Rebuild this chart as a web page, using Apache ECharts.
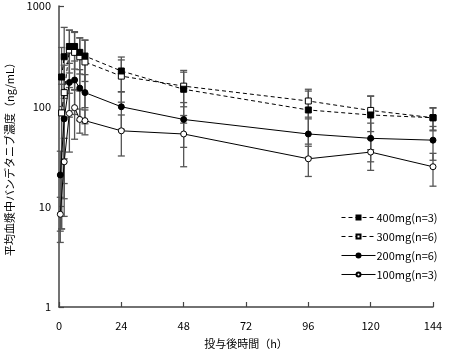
<!DOCTYPE html>
<html><head><meta charset="utf-8">
<script src="https://cdn.jsdelivr.net/npm/echarts@6/dist/echarts.min.js"></script>
<style>html,body{margin:0;padding:0;background:#fff}#c{width:462px;height:358px}</style>
</head><body><div id="c"></div>
<script>
var times = [0.5, 1, 2, 4, 6, 8, 10, 24, 48, 96, 120, 144];
var xTicks = [0, 24, 48, 72, 96, 120, 144];
var yTicks = [1, 10, 100, 1000];
var names = ['400mg(n=3)', '300mg(n=6)', '200mg(n=6)', '100mg(n=3)'];
var mean400 = [null, 196, 312, 395, 395, 345, 317, 225, 148, 92, 82, 77];
var sd400   = [null, 190, 300, 180, 160, 135, 140, 85, 80, 50, 45, 19];
var mean300 = [null, 86, 137, 364, 345, 312, 277, 200, 159, 113, 91, 77];
var sd300   = [null, 80, 120, 210, 200, 170, 180, 90, 60, 35, 35, 20];
var mean200 = [20.7, null, 75, 173, 183, 152, 137, 99, 74, 53, 48, 46];
var sd200   = [15, null, 45, 95, 100, 80, 70, 40, 35, 22, 20, 17];
var mean100 = [8.4, null, 28, 85, 97, 74, 72, 57, 53, 30, 35, 25];
var sd100   = [4, null, 20, 50, 50, 20, 20, 25, 28, 10, 12, 9];

var FONT = '"Noto Sans CJK JP", "Noto Sans", sans-serif';
function pts(m){ var r=[]; for(var i=0;i<times.length;i++){ if(m[i]!=null) r.push([times[i], m[i]]); } return r; }
function errs(m, s){ var r=[]; for(var i=0;i<times.length;i++){ if(m[i]!=null) r.push([times[i], Math.max(m[i]-s[i], 1), m[i]+s[i]]); } return r; }

function renderErr(params, api){
  var x = api.value(0), lo = api.value(1), hi = api.value(2);
  var a = api.coord([x, hi]), b = api.coord([x, lo]);
  var w = 3.5, st = {stroke:'#555', lineWidth:1.3};
  return {type:'group', children:[
    {type:'line', shape:{x1:a[0], y1:a[1], x2:b[0], y2:b[1]}, style:st},
    {type:'line', shape:{x1:a[0]-w, y1:a[1], x2:a[0]+w, y2:a[1]}, style:st},
    {type:'line', shape:{x1:b[0]-w, y1:b[1], x2:b[0]+w, y2:b[1]}, style:st}
  ]};
}

var specs = [
  {m: mean400, s: sd400, sym: 'rect', fill: '#000', dash: [4,3]},
  {m: mean300, s: sd300, sym: 'rect', fill: '#fff', dash: [4,3]},
  {m: mean200, s: sd200, sym: 'circle', fill: '#000', dash: 'solid'},
  {m: mean100, s: sd100, sym: 'circle', fill: '#fff', dash: 'solid'}
];
var series = [];
specs.forEach(function(sp, i){
  series.push({type:'custom', name: names[i]+'_err', renderItem: renderErr, data: errs(sp.m, sp.s), encode:{x:0, y:[1,2]}, z: 1, silent:true});
});
specs.forEach(function(sp, i){
  series.push({type:'line', name: names[i], data: pts(sp.m), symbol: sp.sym, symbolSize: 6, showAllSymbol: true,
    lineStyle:{color:'#000', width:1, type: sp.dash},
    itemStyle:{color: sp.fill, borderColor:'#000', borderWidth:1},
    z: 3 + (3-i), animation:false});
});

var chart = echarts.init(document.getElementById('c'));
chart.setOption({
  animation:false,
  textStyle:{fontFamily: FONT},
  grid:{left:59, right:29, top:6, bottom:51, containLabel:false, outerBoundsMode:'none'},
  legend:{orient:'vertical', left:336, top:207, itemWidth:34, itemHeight:5, itemGap:8,
    lineStyle:{width:1},
    data: names, textStyle:{fontSize:11, color:'#000', fontFamily: FONT, padding:[0,0,0,-4]}},
  xAxis:{type:'value', min:0, max:144, interval:24,
    name:'投与後時間（h）', nameLocation:'middle', nameGap:31,
    nameTextStyle:{fontSize:11, color:'#000', fontFamily: FONT},
    axisLine:{show:true, lineStyle:{color:'#444', width:1.5}},
    axisTick:{show:true, inside:true, length:5, lineStyle:{color:'#444', width:1.2}},
    axisLabel:{fontSize:11, color:'#000', margin:13},
    splitLine:{show:false}},
  yAxis:{type:'log', logBase:10, min:1, max:1000,
    name:'平均血漿中バンデタニブ濃度（ng/mL）', nameLocation:'middle', nameGap:44, nameRotate:90,
    nameTextStyle:{fontSize:11, color:'#000', fontFamily: FONT},
    axisLine:{show:true, lineStyle:{color:'#444', width:1.5}},
    axisTick:{show:true, inside:true, length:5, lineStyle:{color:'#444', width:1.2}},
    axisLabel:{fontSize:11, color:'#000', margin:8, formatter: function(v){ return String(Math.round(v)); }},
    splitLine:{show:false}},
  series: series
});
</script></body></html>
